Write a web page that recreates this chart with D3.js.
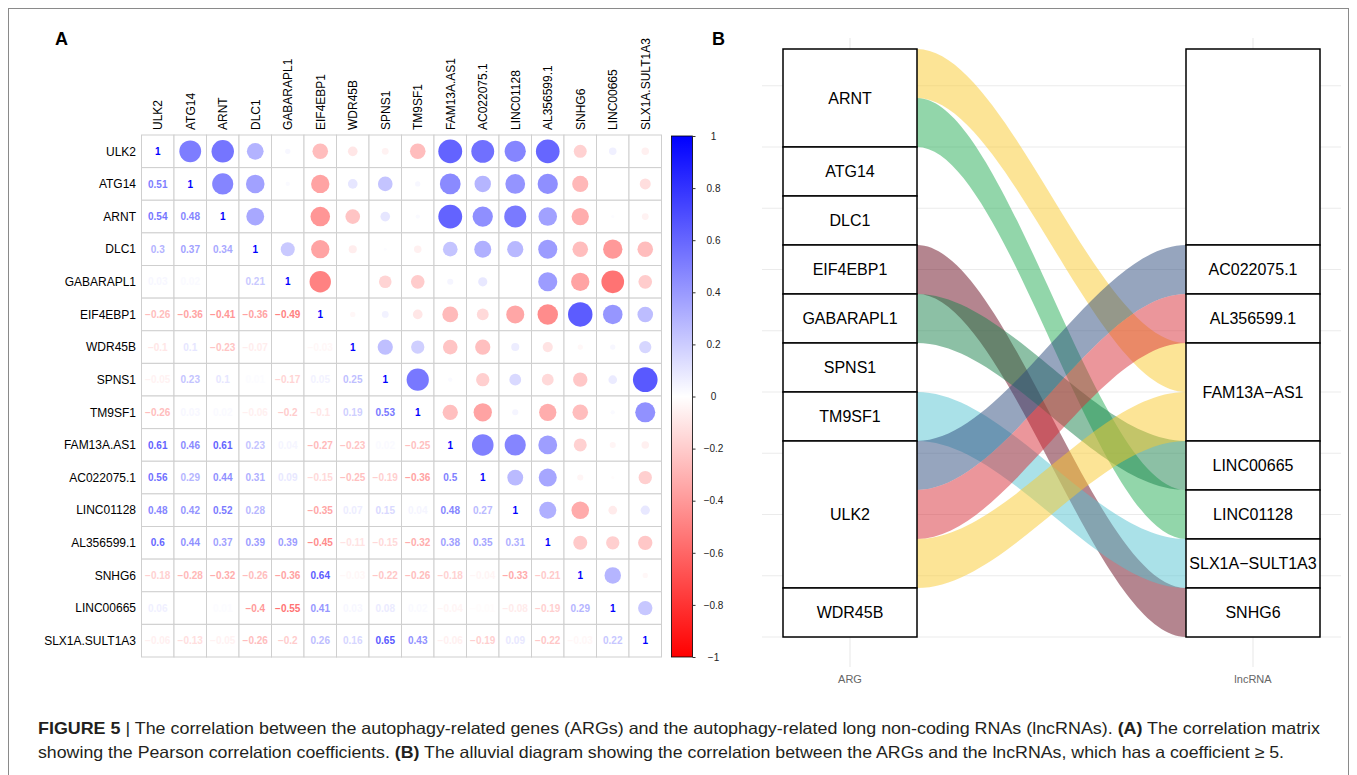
<!DOCTYPE html>
<html>
<head>
<meta charset="utf-8">
<script src="https://cdn.jsdelivr.net/npm/d3@7"></script>
<style>
  body { margin: 0; background: #fff; }
  svg { font-family: "Liberation Sans", Arial, sans-serif; }
</style>
</head>
<body>
<svg id="fig" width="1357" height="775"></svg>
<script>
// ---- panel A data: genes and lower triangle of the correlation matrix ----
var genes = ["ULK2", "ATG14", "ARNT", "DLC1", "GABARAPL1", "EIF4EBP1", "WDR45B", "SPNS1",
             "TM9SF1", "FAM13A.AS1", "AC022075.1", "LINC01128", "AL356599.1", "SNHG6",
             "LINC00665", "SLX1A.SULT1A3"];
var lowerTri = [
  [],
  [0.51],
  [0.54, 0.48],
  [0.3, 0.37, 0.34],
  [0.03, 0.02, 0, 0.21],
  [-0.26, -0.36, -0.41, -0.36, -0.49],
  [-0.1, 0.1, -0.23, -0.07, 0, -0.03],
  [-0.05, 0.23, 0.1, 0.01, -0.17, 0.05, 0.25],
  [-0.26, 0.03, 0.02, -0.06, -0.2, -0.1, 0.19, 0.53],
  [0.61, 0.46, 0.61, 0.23, 0.04, -0.27, -0.23, 0.02, -0.25],
  [0.56, 0.29, 0.44, 0.31, 0.09, -0.15, -0.25, -0.19, -0.36, 0.5],
  [0.48, 0.42, 0.52, 0.28, 0, -0.35, 0.07, 0.15, 0.04, 0.48, 0.27],
  [0.6, 0.44, 0.37, 0.39, 0.39, -0.45, -0.11, -0.15, -0.32, 0.38, 0.35, 0.31],
  [-0.18, -0.28, -0.32, -0.26, -0.36, 0.64, -0.03, -0.22, -0.26, -0.18, -0.04, -0.33, -0.21],
  [0.06, 0, 0.01, -0.4, -0.55, 0.41, 0.03, 0.08, 0.02, -0.04, -0.01, -0.08, -0.19, 0.29],
  [-0.06, -0.13, -0.05, -0.26, -0.2, 0.26, 0.16, 0.65, 0.43, -0.06, -0.19, 0.09, -0.22, -0.03, 0.22]
];
var barTicks = [1, 0.8, 0.6, 0.4, 0.2, 0, -0.2, -0.4, -0.6, -0.8, -1];

// ---- panel B data: one row per alluvium ----
var flowArg = ["ARNT", "ARNT", "ATG14", "DLC1", "EIF4EBP1", "GABARAPL1", "SPNS1", "TM9SF1",
               "ULK2", "ULK2", "ULK2", "WDR45B"];
var flowLnc = ["FAM13A\u2212AS1", "LINC01128", "", "", "SNHG6", "LINC00665", "", "SLX1A\u2212SULT1A3",
               "AC022075.1", "AL356599.1", "FAM13A\u2212AS1", ""];
var lncOrder = ["", "AC022075.1", "AL356599.1", "FAM13A\u2212AS1", "LINC00665", "LINC01128",
                "SLX1A\u2212SULT1A3", "SNHG6"];
var lncColors = ["none", "#2d4b7d", "#d72d37", "#f9c92d", "#19814b", "#25ad55", "#55c3d1", "#690b1f"];
var axisNames = ["ARG", "lncRNA"];

var svg = d3.select("#fig");
var minus = function(s) { return s.replace("-", "\u2212"); };

// outer frame
svg.append("rect")
  .attr("x", 8.5).attr("y", 8.5)
  .attr("width", 1340).attr("height", 790)
  .attr("fill", "none").attr("stroke", "#8a8a8a").attr("stroke-width", 1);

// ================= panel A =================
var n = genes.length;
var corr = genes.map(function(g, i) {
  return genes.map(function(h, j) {
    if (i === j) return 1;
    return i > j ? lowerTri[i][j] : lowerTri[j][i];
  });
});
var cells = [];
corr.forEach(function(row, i) { row.forEach(function(v, j) { cells.push({i: i, j: j, v: v}); }); });

var xA = d3.scaleBand().domain(d3.range(n)).range([141.5, 661.5]);
var yA = d3.scaleBand().domain(d3.range(n)).range([135, 657]);
var col = d3.scaleLinear().domain([-1, 0, 1]).range(["#ff0000", "#ffffff", "#0000ff"]);
var rScale = d3.scaleSqrt().domain([0, 1]).range([0, xA.bandwidth() * 0.47]);

var gA = svg.append("g");

// grid
gA.selectAll("rect.cell").data(cells).enter().append("rect")
  .attr("class", "cell")
  .attr("x", function(d) { return xA(d.j); })
  .attr("y", function(d) { return yA(d.i); })
  .attr("width", xA.bandwidth()).attr("height", yA.bandwidth())
  .attr("fill", "#fff").attr("stroke", "#cfcfcf").attr("stroke-width", 1);

// upper triangle: circles
gA.selectAll("circle").data(cells.filter(function(d) { return d.j > d.i; })).enter().append("circle")
  .attr("cx", function(d) { return xA(d.j) + xA.bandwidth() / 2; })
  .attr("cy", function(d) { return yA(d.i) + yA.bandwidth() / 2; })
  .attr("r", function(d) { return rScale(Math.abs(d.v)); })
  .attr("fill", function(d) { return col(d.v); });

// lower triangle + diagonal: numbers
gA.selectAll("text.num").data(cells.filter(function(d) { return d.j <= d.i; })).enter().append("text")
  .attr("class", "num")
  .attr("x", function(d) { return xA(d.j) + xA.bandwidth() / 2; })
  .attr("y", function(d) { return yA(d.i) + yA.bandwidth() / 2 + 3.6; })
  .attr("text-anchor", "middle")
  .attr("font-size", 10).attr("font-weight", "bold")
  .attr("fill", function(d) { return col(d.v); })
  .text(function(d) { return minus(String(d.v)); });

// row labels
gA.selectAll("text.row").data(genes).enter().append("text")
  .attr("class", "row")
  .attr("x", 136)
  .attr("y", function(d, i) { return yA(i) + yA.bandwidth() / 2 + 4.3; })
  .attr("text-anchor", "end").attr("font-size", 12).attr("fill", "#000")
  .text(function(d) { return d; });

// column labels
gA.selectAll("text.colname").data(genes).enter().append("text")
  .attr("class", "colname")
  .attr("transform", function(d, i) {
    return "translate(" + (xA(i) + xA.bandwidth() / 2 + 4.3) + ",130) rotate(-90)";
  })
  .attr("font-size", 12).attr("fill", "#000")
  .text(function(d) { return d; });

// colour bar
var defs = svg.append("defs");
var grad = defs.append("linearGradient").attr("id", "cbar")
  .attr("x1", 0).attr("y1", 0).attr("x2", 0).attr("y2", 1);
grad.append("stop").attr("offset", "0%").attr("stop-color", col(1));
grad.append("stop").attr("offset", "50%").attr("stop-color", col(0));
grad.append("stop").attr("offset", "100%").attr("stop-color", col(-1));

var yBar = d3.scaleLinear().domain([-1, 1]).range([657, 136]);
gA.append("rect")
  .attr("x", 671.5).attr("y", yBar(1))
  .attr("width", 21).attr("height", yBar(-1) - yBar(1))
  .attr("fill", "url(#cbar)").attr("stroke", "#000").attr("stroke-width", 0.8);

var barAxis = gA.append("g")
  .attr("transform", "translate(692.5,0)")
  .call(d3.axisRight(yBar).tickValues(barTicks).tickSize(3).tickFormat(function(d) { return minus(String(d)); }));
barAxis.select(".domain").remove();
barAxis.selectAll("line").attr("stroke", "#333");
barAxis.selectAll("text")
  .attr("x", 21).attr("text-anchor", "middle")
  .attr("font-size", 10).attr("fill", "#222")
  .attr("font-family", "Liberation Sans, Arial, sans-serif");

svg.append("text").attr("x", 55).attr("y", 45)
  .attr("font-size", 18).attr("font-weight", "bold").text("A");

// ================= panel B =================
var argOrder = Array.from(new Set(flowArg));
var total = flowArg.length;
var yB = d3.scaleLinear().domain([0, total]).range([637, 49]);
var xB = d3.scalePoint().domain(axisNames).range([850, 1253]);
var sw = 134;

var flows = flowArg.map(function(a, k) { return {arg: a, lnc: flowLnc[k], left: k}; });
var rightPos = 0;
lncOrder.forEach(function(l) {
  flows.filter(function(f) { return f.lnc === l; }).forEach(function(f) { f.right = rightPos++; });
});

var gB = svg.append("g");

// grid
gB.selectAll("line.h").data(d3.range(0, 11.3, 1.25)).enter().append("line")
  .attr("x1", 762).attr("x2", 1341)
  .attr("y1", function(d) { return yB(d); }).attr("y2", function(d) { return yB(d); })
  .attr("stroke", "#ebebeb").attr("stroke-width", 1.2);
gB.selectAll("line.v").data(axisNames).enter().append("line")
  .attr("x1", function(d) { return xB(d); }).attr("x2", function(d) { return xB(d); })
  .attr("y1", 38).attr("y2", 667)
  .attr("stroke", "#ebebeb").attr("stroke-width", 1.2);

// flows (top of stack = largest y value)
var xL = xB("ARG") + sw / 2, xR = xB("lncRNA") - sw / 2, dx = xR - xL;
function flowPath(f) {
  var yl0 = yB(total - f.left), yl1 = yB(total - f.left - 1);
  var yr0 = yB(total - f.right), yr1 = yB(total - f.right - 1);
  var c1 = xL + dx / 3, c2 = xR - dx / 3;
  return "M" + xL + "," + yl0 +
    "C" + c1 + "," + yl0 + " " + c2 + "," + yr0 + " " + xR + "," + yr0 +
    "L" + xR + "," + yr1 +
    "C" + c2 + "," + yr1 + " " + c1 + "," + yl1 + " " + xL + "," + yl1 + "Z";
}
gB.selectAll("path.flow").data(flows.filter(function(f) { return f.lnc !== ""; })).enter().append("path")
  .attr("class", "flow")
  .attr("d", flowPath)
  .attr("fill", function(f) { return lncColors[lncOrder.indexOf(f.lnc)]; })
  .attr("fill-opacity", 0.5);

// strata
function strata(order, key, axisName) {
  var pos = 0;
  var data = order.map(function(name) {
    var cnt = flows.filter(function(f) { return f[key] === name; }).length;
    var d = {name: name, start: pos, count: cnt};
    pos += cnt;
    return d;
  });
  var g = gB.append("g");
  g.selectAll("rect").data(data).enter().append("rect")
    .attr("x", xB(axisName) - sw / 2)
    .attr("y", function(d) { return yB(total - d.start); })
    .attr("width", sw)
    .attr("height", function(d) { return yB(total - d.start - d.count) - yB(total - d.start); })
    .attr("fill", "#fff").attr("stroke", "#000").attr("stroke-width", 1.5);
  g.selectAll("text").data(data).enter().append("text")
    .attr("x", xB(axisName))
    .attr("y", function(d) { return yB(total - d.start - d.count / 2) + 5.8; })
    .attr("text-anchor", "middle").attr("font-size", 16).attr("fill", "#000")
    .text(function(d) { return d.name; });
}
strata(argOrder, "arg", "ARG");
strata(lncOrder, "lnc", "lncRNA");

gB.selectAll("text.axis").data(axisNames).enter().append("text")
  .attr("class", "axis")
  .attr("x", function(d) { return xB(d); }).attr("y", 683)
  .attr("text-anchor", "middle").attr("font-size", 11).attr("fill", "#666")
  .text(function(d) { return d; });

svg.append("text").attr("x", 712).attr("y", 45)
  .attr("font-size", 18).attr("font-weight", "bold").text("B");

// ================= caption =================
var cap1 = [["FIGURE 5", true], [" | The correlation between the autophagy-related genes (ARGs) and the autophagy-related long non-coding RNAs (lncRNAs). ", false], ["(A)", true], [" The correlation matrix", false]];
var cap2 = [["showing the Pearson correlation coefficients. ", false], ["(B)", true], [" The alluvial diagram showing the correlation between the ARGs and the lncRNAs, which has a coefficient \u2265 5.", false]];
[[cap1, 734, 1282], [cap2, 758, 1246]].forEach(function(line) {
  var t = svg.append("text").attr("x", 38).attr("y", line[1])
    .attr("font-size", 16.5).attr("fill", "#231f20")
    .attr("font-family", "'Liberation Sans', Arial, sans-serif")
    .attr("textLength", line[2]).attr("lengthAdjust", "spacingAndGlyphs");
  line[0].forEach(function(p) {
    t.append("tspan").attr("font-weight", p[1] ? "bold" : "normal").text(p[0]);
  });
});
</script>
</body>
</html>
